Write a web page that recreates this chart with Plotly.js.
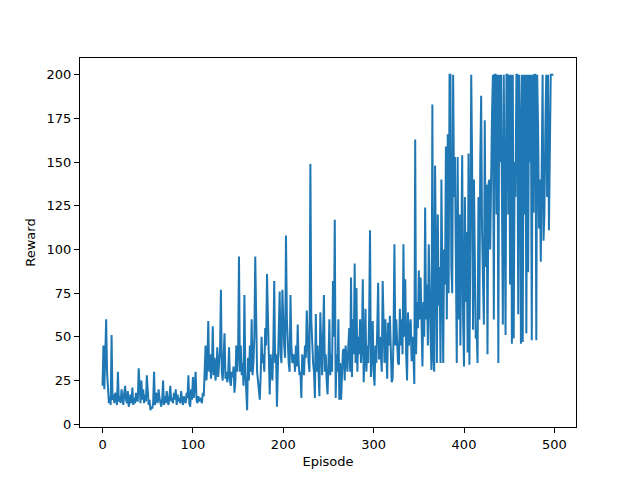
<!DOCTYPE html>
<html>
<head>
<meta charset="utf-8">
<script src="https://cdn.plot.ly/plotly-3.0.1.min.js"></script>
<style>html,body{margin:0;padding:0;background:#fff;}#chart{width:640px;height:480px;}</style>
</head>
<body>
<div id="chart"></div>
<script>
const rewards = [
  22, 45, 20, 52, 60, 30, 18, 12, 16, 11,
  51, 14, 17, 12, 18, 15, 11, 30, 13, 16,
  12, 20, 15, 11, 18, 22, 14, 12, 19, 10,
  13, 17, 12, 21, 11, 15, 12, 18, 14, 13,
  32, 16, 12, 25, 14, 20, 12, 17, 13, 28,
  15, 11, 14, 8, 10, 9, 12, 30, 11, 14,
  18, 12, 20, 15, 13, 10, 14, 25, 11, 16,
  12, 19, 14, 11, 16, 22, 13, 15, 12, 18,
  14, 20, 11, 17, 13, 15, 12, 19, 14, 11,
  16, 13, 12, 18, 15, 28, 12, 10, 20, 14,
  27, 15, 22, 30, 14, 12, 16, 13, 15, 14,
  12, 18, 16, 28, 45, 25, 35, 59, 30, 40,
  26, 32, 56, 28, 38, 25, 30, 44, 27, 35,
  42, 77, 30, 25, 38, 52, 26, 30, 24, 28,
  44, 25, 22, 30, 27, 33, 18, 25, 45, 30,
  40, 96, 30, 45, 28, 35, 22, 74, 30, 18,
  8, 38, 25, 45, 30, 60, 28, 35, 50, 96,
  40, 30, 25, 18, 14, 28, 50, 35, 40, 30,
  55, 45, 86, 62, 35, 17, 40, 30, 25, 45,
  82, 35, 40, 10, 30, 58, 76, 40, 35, 77,
  50, 45, 38, 108, 60, 40, 35, 30, 74, 45,
  35, 40, 38, 30, 45, 33, 57, 35, 28, 30,
  15, 40, 35, 28, 45, 38, 65, 40, 35, 30,
  149, 60, 40, 35, 30, 15, 63, 30, 45, 25,
  16, 64, 35, 28, 50, 74, 30, 40, 25, 17,
  35, 60, 28, 40, 30, 82, 50, 117, 15, 40,
  30, 60, 14, 35, 14, 30, 42, 43, 25, 45,
  38, 30, 45, 55, 30, 84, 27, 60, 40, 92,
  35, 78, 30, 50, 40, 60, 35, 45, 83, 24,
  40, 66, 30, 45, 35, 60, 111, 27, 40, 59,
  30, 22, 45, 35, 55, 81, 37, 50, 40, 30,
  82, 45, 35, 60, 40, 26, 58, 45, 62, 35,
  24, 26, 50, 103, 45, 60, 40, 35, 34, 66,
  45, 60, 40, 103, 50, 83, 40, 25, 64, 45,
  55, 60, 36, 50, 40, 23, 163, 40, 70, 55,
  88, 60, 84, 45, 33, 70, 50, 124, 60, 80,
  45, 103, 60, 50, 31, 183, 40, 30, 148, 55,
  35, 120, 68, 90, 35, 140, 60, 35, 100, 80,
  159, 60, 166, 75, 200, 200, 90, 75, 200, 130,
  153, 70, 35, 153, 60, 120, 45, 100, 154, 60,
  33, 130, 70, 110, 41, 155, 34, 100, 200, 150,
  54, 140, 90, 49, 54, 35, 130, 60, 150, 188,
  110, 78, 57, 174, 90, 137, 40, 137, 140, 100,
  148, 177, 200, 60, 200, 200, 120, 200, 35, 200,
  150, 200, 130, 57, 200, 90, 51, 200, 200, 120,
  200, 80, 200, 46, 200, 49, 150, 130, 200, 200,
  63, 200, 170, 46, 200, 47, 200, 120, 200, 52,
  200, 87, 200, 150, 200, 48, 200, 121, 200, 200,
  48, 200, 170, 112, 140, 93, 170, 200, 105, 120,
  168, 200, 130, 200, 111, 150, 200, 200, 200, 200
];
const episodes = rewards.map((_, i) => i);
const xTicks = [0, 100, 200, 300, 400, 500];
const yTicks = [0, 25, 50, 75, 100, 125, 150, 175, 200];

const fontFam = 'DejaVu Sans, sans-serif';
const axisCommon = {
  showgrid: false, zeroline: false, showline: true, mirror: true,
  linecolor: '#000', linewidth: 1, ticks: 'outside', ticklen: 5,
  tickwidth: 1, tickcolor: '#000',
  tickfont: {family: fontFam, size: 13, color: '#000'}
};
const layout = {
  width: 640, height: 480,
  margin: {l: 80, r: 64, t: 58, b: 53, pad: 0},
  paper_bgcolor: '#fff', plot_bgcolor: '#fff',
  showlegend: false,
  xaxis: Object.assign({}, axisCommon, {
    range: [-24.95, 523.95], tickvals: xTicks, ticktext: xTicks.map(String),
    title: {text: 'Episode', font: {family: fontFam, size: 13, color: '#000'}, standoff: 6}
  }),
  yaxis: Object.assign({}, axisCommon, {
    range: [-1.6, 209.6], tickvals: yTicks, ticktext: yTicks.map(String),
    title: {text: 'Reward', font: {family: fontFam, size: 13, color: '#000'}, standoff: 8}
  })
};
Plotly.newPlot('chart', [{
  x: episodes, y: rewards, type: 'scatter', mode: 'lines',
  line: {color: '#1f77b4', width: 2}
}], layout, {displayModeBar: false, staticPlot: true});
</script>
</body>
</html>
